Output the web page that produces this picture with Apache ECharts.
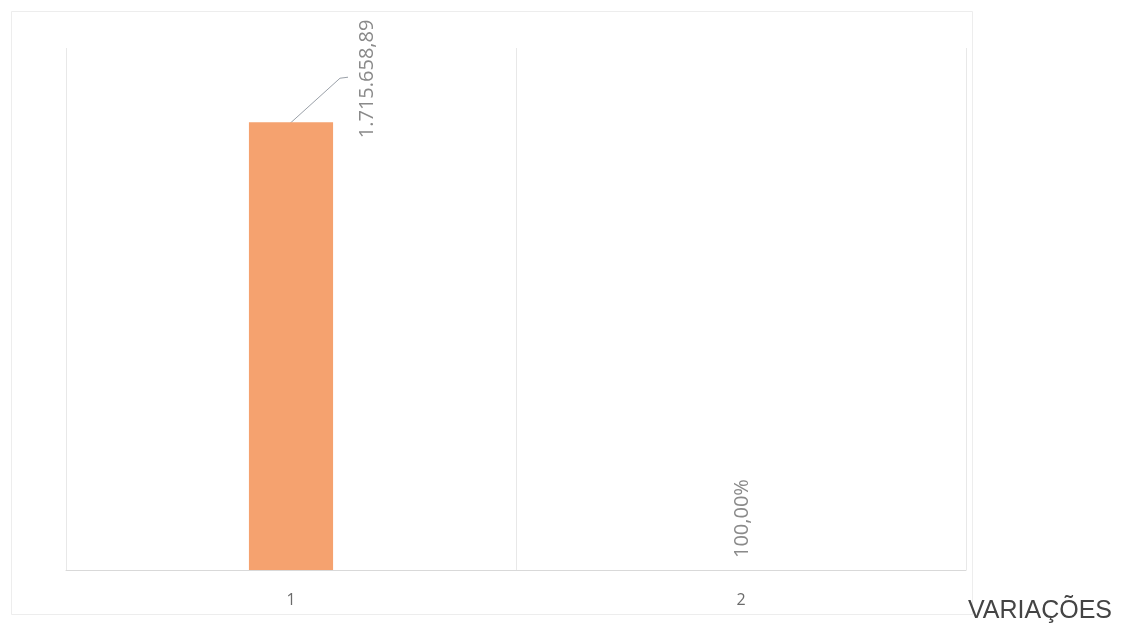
<!DOCTYPE html>
<html>
<head>
<meta charset="utf-8">
<script src="https://cdn.jsdelivr.net/npm/echarts@6/dist/echarts.min.js"></script>
<style>
html,body{margin:0;padding:0;background:#fff;}
#chart{width:1126px;height:627px;}
</style>
</head>
<body>
<div id="chart"></div>
<script>
const categories = ['1', '2'];
const values = [1715658.89, 0];
const valueLabels = ['1.715.658,89', '100,00%'];
const axisTitle = 'VARIAÇÕES';

const chart = echarts.init(document.getElementById('chart'), null, {renderer: 'canvas'});
chart.setOption({
  animation: false,
  backgroundColor: '#ffffff',
  grid: {left: 66, right: 160, top: 48, bottom: 57},
  graphic: [
    {id: 'box', type: 'rect', left: 9, top: 9, shape: {width: 961, height: 603},
     style: {fill: 'none', stroke: '#ededed', lineWidth: 1}, silent: true},
    {id: 'title', type: 'text', left: 968, top: 599,
     style: {text: axisTitle, fill: '#444444', font: '25px "Liberation Sans", Arial, sans-serif'}}
  ],
  xAxis: {
    type: 'category',
    data: categories,
    axisLine: {show: true, lineStyle: {color: '#d9d9d9', width: 1}},
    axisTick: {show: false},
    splitLine: {show: true, lineStyle: {color: '#e8e8e8', width: 1}},
    axisLabel: {color: '#6b6b6b', fontSize: 16, margin: 22, fontFamily: '"Open Sans", sans-serif'}
  },
  yAxis: {
    type: 'value', show: false, min: 0, max: 2000000,
    splitLine: {show: false}
  },
  series: [{
    type: 'bar',
    data: values,
    barWidth: '18.7%',
    itemStyle: {color: '#F5A26F'},
    label: {
      show: true,
      position: 'top',
      distance: 0,
      rotate: 90,
      align: 'left',
      verticalAlign: 'middle',
      color: '#8a8a8a',
      fontSize: 20,
      fontFamily: '"Open Sans", sans-serif',
      formatter: p => valueLabels[p.dataIndex]
    },
    labelLayout: p => p.dataIndex === 0 ? {dx: -16, dy: 76} : {dx: 12, dy: 1}
  }]
});

// leader line for the first label, anchored on the bar top through the chart's scales
const top0 = chart.convertToPixel({seriesIndex: 0}, [0, values[0]]);
chart.setOption({
  graphic: [
    {id: 'leader', type: 'polyline', silent: true,
     shape: {points: [[top0[0] - 3, top0[1] + 3], [top0[0] + 49, top0[1] - 44], [top0[0] + 57, top0[1] - 45]]},
     style: {stroke: '#9aa0a8', lineWidth: 1, fill: 'none'}}
  ]
});
</script>
</body>
</html>
